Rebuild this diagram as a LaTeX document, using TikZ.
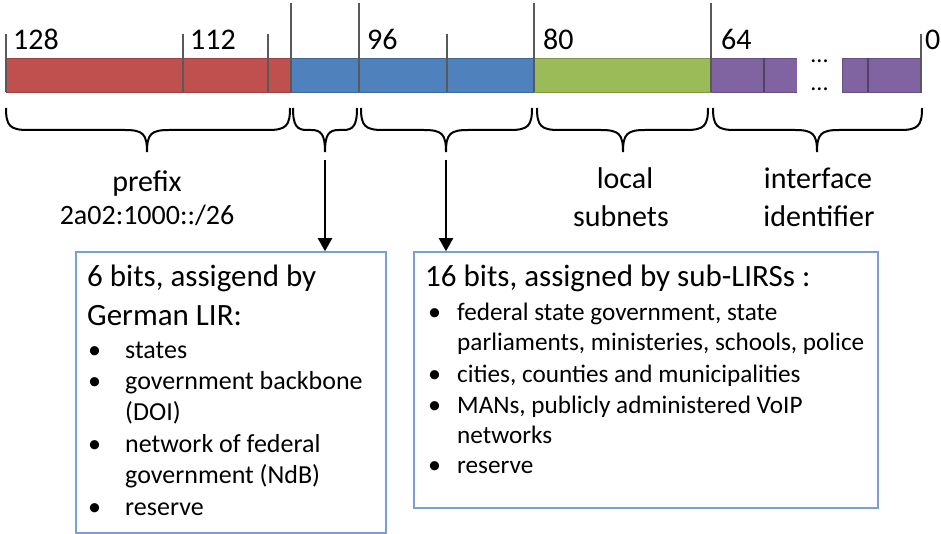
\documentclass[tikz,border=0pt]{standalone}
\usepackage{fontspec}
\setmainfont{Carlito}
\usetikzlibrary{arrows.meta}
\definecolor{cred}{RGB}{192,80,77}
\definecolor{cblue}{RGB}{79,129,189}
\definecolor{cgreen}{RGB}{155,187,89}
\definecolor{cpurple}{RGB}{128,100,162}
\definecolor{ctick}{RGB}{89,89,89}
\definecolor{cbox}{RGB}{124,158,212}
\newcommand\mybrace[4]{%
  \draw[bracestyle] (#1,108) .. controls (#1,126) and (#1+4,130) .. (#1+#4,130)
    -- (#2-#4,130) .. controls (#2-4,130) and (#2,134) .. (#2,152)
    .. controls (#2,134) and (#2+4,130) .. (#2+#4,130)
    -- (#3-#4,130) .. controls (#3-4,130) and (#3,126) .. (#3,108);}
\begin{document}
\begin{tikzpicture}[x=1pt,y=-1pt,
  seg/.style={line width=0.8pt},
  tick/.style={draw=ctick,line width=2pt},
  bracestyle/.style={draw=black,line width=2pt},
  num/.style={anchor=base west,inner sep=0pt,font=\fontsize{30}{36}\selectfont},
  lab/.style={anchor=base,inner sep=0pt,font=\fontsize{30}{36}\selectfont},
  head/.style={anchor=base west,inner sep=0pt,font=\fontsize{31}{37}\selectfont},
  item/.style={anchor=base west,inner sep=0pt,font=\fontsize{26}{31}\selectfont},
  ritem/.style={anchor=base west,inner sep=0pt,font=\fontsize{25.2}{30}\selectfont},
  bul/.style={anchor=base west,inner sep=0pt,font=\fontsize{26}{31}\selectfont},
  infobox/.style={draw=cbox,line width=1.5pt,fill=none,inner sep=0pt},
  arr/.style={draw=black,line width=2pt,-{Triangle[length=13pt,width=14pt]}}]
\useasboundingbox (0,0) rectangle (941,534);
% bar segments
\filldraw[seg,fill=cred,draw=cred!80!black] (6,58) rectangle (291,92);
\filldraw[seg,fill=cblue,draw=cblue!80!black] (291,58) rectangle (534,92);
\filldraw[seg,fill=cgreen,draw=cgreen!80!black] (534,58) rectangle (711,92);
\filldraw[seg,fill=cpurple,draw=cpurple!80!black] (711,58) rectangle (797,92);
\filldraw[seg,fill=cpurple,draw=cpurple!80!black] (842,58) rectangle (921,92);
\draw[draw=cpurple!65!black,line width=1.5pt] (764,58) -- (764,92) (868,58) -- (868,92);
% ticks
\foreach \x in {6,183,268,447,921} \draw[tick] (\x,34) -- (\x,92);
\foreach \x in {291,359,534,711} \draw[tick] (\x,3) -- (\x,92);
% numbers
\node[num] (n128) at (13,50) {128};
\node[num] (n112) at (190,50) {112};
\node[num] (n96) at (367,50) {96};
\node[num] (n80) at (543,50) {80};
\node[num] (n64) at (721,50) {64};
\node[num] (n0) at (925,50) {0};
% gap with dots
\fill[white] (797,38) rectangle (842,118);
\node[anchor=base,inner sep=0pt,font=\fontsize{24}{28}\selectfont] (d1) at (819.5,63) {...};
\node[anchor=base,inner sep=0pt,font=\fontsize{24}{28}\selectfont] (d2) at (819.5,91) {...};
% braces
\mybrace{6}{147}{290}{22}
\mybrace{293}{325}{357}{14}
\mybrace{361}{446}{532}{22}
\mybrace{537}{623}{708}{22}
\mybrace{713}{817}{922}{22}
% labels
\node[lab] (pre) at (147,192) {prefix};
\node[lab,font=\fontsize{28}{34}\selectfont] (pre2) at (147,225) {2a02:1000::/26};
\node[lab] (loc1) at (625,189) {local};
\node[lab] (loc2) at (621,227) {subnets};
\node[lab] (if1) at (818,189) {interface};
\node[lab] (if2) at (819,227) {identifier};
% boxes
\node[infobox,minimum width=310pt,minimum height=281pt] (lbox) at (231,392.5) {};
\node[infobox,minimum width=464pt,minimum height=256pt] (rbox) at (646,380) {};
% arrows
\coordinate (t1) at (325,160);
\coordinate (t2) at (446,160);
\draw[arr] (t1) -- (t1 |- lbox.north);
\draw[arr] (t2) -- (t2 |- rbox.north);
% left box text
\node[head] (lh1) at (87,287) {6 bits, assigend by};
\node[head] (lh2) at (87,325) {German LIR:};
\node[bul] (lb1) at (88,358) {\textbullet};
\node[item] (li1) at (125,358) {states};
\node[bul] (lb2) at (88,389) {\textbullet};
\node[item] (li2) at (125,389) {government backbone};
\node[item] (li3) at (125,420) {(DOI)};
\node[bul] (lb3) at (88,452) {\textbullet};
\node[item] (li4) at (125,452) {network of federal};
\node[item] (li5) at (125,483) {government (NdB)};
\node[bul] (lb4) at (88,515) {\textbullet};
\node[item] (li6) at (125,515) {reserve};
% right box text
\node[head] (rh1) at (425,287) {16 bits, assigned by sub-LIRSs :};
\node[bul] (rb1) at (428,320) {\textbullet};
\node[ritem] (ri1) at (457,320) {federal state government, state};
\node[ritem] (ri2) at (457,350) {parliaments, ministeries, schools, police};
\node[bul] (rb2) at (428,382) {\textbullet};
\node[ritem] (ri3) at (457,382) {cities, counties and municipalities};
\node[bul] (rb3) at (428,413) {\textbullet};
\node[ritem] (ri4) at (457,413) {MANs, publicly administered VoIP};
\node[ritem] (ri5) at (457,443) {networks};
\node[bul] (rb4) at (428,473) {\textbullet};
\node[ritem] (ri6) at (457,473) {reserve};
\end{tikzpicture}
\end{document}
